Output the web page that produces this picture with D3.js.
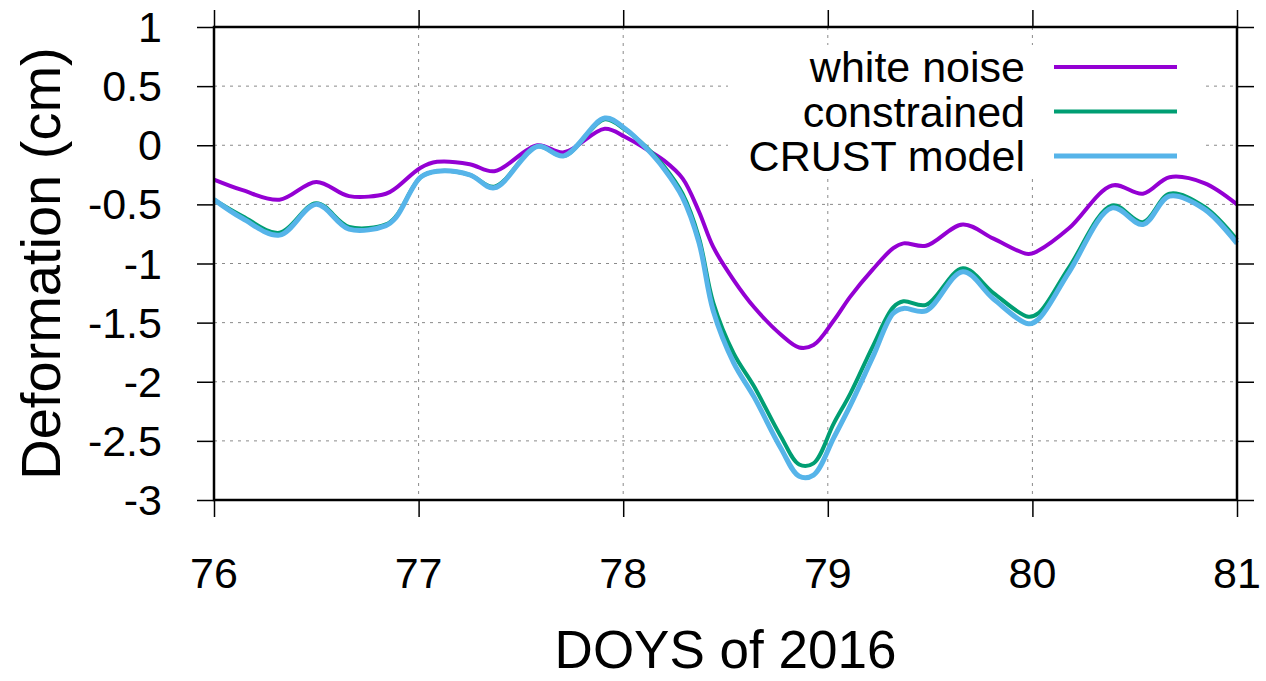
<!DOCTYPE html>
<html>
<head>
<meta charset="utf-8">
<script src="https://cdn.jsdelivr.net/npm/d3@7"></script>
<style>
  body { margin: 0; background: #fff; }
  text { font-family: "Liberation Sans", Arial, sans-serif; fill: #000; }
</style>
</head>
<body>
<svg id="chart" width="1266" height="681"></svg>
<script>
// data (day of year, deformation in cm)
const days = [76.00, 76.14, 76.32, 76.50, 76.66, 76.84, 76.89, 77.01, 77.09, 77.25,
              77.37, 77.58, 77.71, 77.91, 78.01, 78.11, 78.20, 78.29, 78.37, 78.44,
              78.54, 78.64, 78.77, 78.86, 78.93, 79.03, 79.11, 79.22, 79.32, 79.37,
              79.48, 79.66, 79.81, 79.98, 80.03, 80.18, 80.39, 80.54, 80.67, 80.84, 81.00];

const whiteNoise = [-0.29, -0.38, -0.46, -0.31, -0.43, -0.41, -0.36, -0.19, -0.14, -0.16,
                    -0.22, 0.00, -0.06, 0.14, 0.07, -0.03, -0.13, -0.28, -0.56, -0.86,
                    -1.14, -1.37, -1.60, -1.71, -1.69, -1.48, -1.28, -1.05, -0.87, -0.83,
                    -0.85, -0.67, -0.79, -0.92, -0.89, -0.70, -0.34, -0.41, -0.27, -0.32, -0.50];

const constrained = [-0.46, -0.60, -0.74, -0.49, -0.69, -0.67, -0.60, -0.27, -0.22, -0.25,
                     -0.35, -0.01, -0.09, 0.22, 0.13, -0.01, -0.18, -0.41, -0.78, -1.33,
                     -1.76, -2.04, -2.46, -2.70, -2.69, -2.35, -2.10, -1.70, -1.37, -1.32,
                     -1.35, -1.04, -1.25, -1.45, -1.42, -1.03, -0.51, -0.65, -0.41, -0.52, -0.80];

const crustModel = [-0.46, -0.62, -0.76, -0.50, -0.71, -0.68, -0.61, -0.27, -0.22, -0.25,
                    -0.36, -0.01, -0.09, 0.23, 0.14, -0.02, -0.20, -0.44, -0.82, -1.40,
                    -1.84, -2.13, -2.56, -2.80, -2.79, -2.47, -2.20, -1.79, -1.42, -1.38,
                    -1.40, -1.07, -1.30, -1.51, -1.47, -1.07, -0.53, -0.67, -0.43, -0.54, -0.83];

const seriesNames = ["white noise", "constrained", "CRUST model"];
const seriesColors = ["#9400d3", "#009e73", "#56b4e9"];
const seriesWidths = [4, 4, 5];

const xTicks = [76, 77, 78, 79, 80, 81];
const yTicks = [1, 0.5, 0, -0.5, -1, -1.5, -2, -2.5, -3];

const svg = d3.select("#chart");
const plotLeft = 214, plotRight = 1237, plotTop = 27, plotBottom = 500;

const x = d3.scaleLinear().domain([76, 81]).range([plotLeft, plotRight]);
const y = d3.scaleLinear().domain([-3, 1]).range([plotBottom, plotTop]);

// grid
const grid = svg.append("g").attr("stroke", "#8a8a8a").attr("stroke-width", 1)
  .attr("stroke-dasharray", "3,5");
grid.selectAll(".gx").data(xTicks.slice(1, -1)).enter().append("line")
  .attr("x1", d => x(d)).attr("x2", d => x(d))
  .attr("y1", plotTop).attr("y2", plotBottom);
grid.selectAll(".gy").data(yTicks.slice(1, -1)).enter().append("line")
  .attr("x1", plotLeft).attr("x2", plotRight)
  .attr("y1", d => y(d)).attr("y2", d => y(d));

// legend background (opaque key)
svg.append("rect").attr("x", 728).attr("y", 45).attr("width", 477).attr("height", 134)
  .attr("fill", "#fff");

// lines
const series = [whiteNoise, constrained, crustModel];
const line = d3.line().x(d => x(d[0])).y(d => y(d[1])).curve(d3.curveCatmullRom.alpha(0.5));
series.forEach((vals, i) => {
  svg.append("path")
    .datum(days.map((d, j) => [d, vals[j]]))
    .attr("fill", "none")
    .attr("stroke", seriesColors[i])
    .attr("stroke-width", seriesWidths[i])
    .attr("stroke-linejoin", "round")
    .attr("d", line);
});

// axes (ticks outward on all four sides)
const tickLen = 17;
svg.append("g").attr("transform", `translate(0,${plotBottom})`)
  .call(d3.axisBottom(x).tickValues(xTicks).tickSize(tickLen).tickFormat(""));
svg.append("g").attr("transform", `translate(0,${plotTop})`)
  .call(d3.axisTop(x).tickValues(xTicks).tickSize(tickLen).tickFormat(""));
svg.append("g").attr("transform", `translate(${plotLeft},0)`)
  .call(d3.axisLeft(y).tickValues(yTicks).tickSize(tickLen).tickFormat(""));
svg.append("g").attr("transform", `translate(${plotRight},0)`)
  .call(d3.axisRight(y).tickValues(yTicks).tickSize(tickLen).tickFormat(""));
svg.selectAll(".domain").remove();
svg.selectAll(".tick line").attr("stroke", "#000").attr("stroke-width", 1.5);

svg.append("rect").attr("x", plotLeft).attr("y", plotTop)
  .attr("width", plotRight - plotLeft).attr("height", plotBottom - plotTop)
  .attr("fill", "none").attr("stroke", "#000").attr("stroke-width", 2.5);

// tick labels
svg.selectAll(".xl").data(xTicks).enter().append("text")
  .attr("x", d => x(d)).attr("y", 588)
  .attr("text-anchor", "middle").attr("font-size", 43)
  .text(d => d);
svg.selectAll(".yl").data(yTicks).enter().append("text")
  .attr("x", 162).attr("y", d => y(d) + 15)
  .attr("text-anchor", "end").attr("font-size", 43)
  .text(d => d);

// axis titles
svg.append("text").attr("x", (plotLeft + plotRight) / 2).attr("y", 668)
  .attr("text-anchor", "middle").attr("font-size", 53)
  .text("DOYS of 2016");
svg.append("text")
  .attr("transform", `translate(60,${(plotTop + plotBottom) / 2}) rotate(-90)`)
  .attr("text-anchor", "middle").attr("font-size", 56)
  .text("Deformation (cm)");

// legend
const legY = [67, 111.5, 156];
seriesNames.forEach((name, i) => {
  svg.append("text").attr("x", 1025).attr("y", legY[i] + 15)
    .attr("text-anchor", "end").attr("font-size", 43)
    .text(name);
  svg.append("line")
    .attr("x1", 1054).attr("x2", 1177)
    .attr("y1", legY[i]).attr("y2", legY[i])
    .attr("stroke", seriesColors[i]).attr("stroke-width", seriesWidths[i]);
});
</script>
</body>
</html>
